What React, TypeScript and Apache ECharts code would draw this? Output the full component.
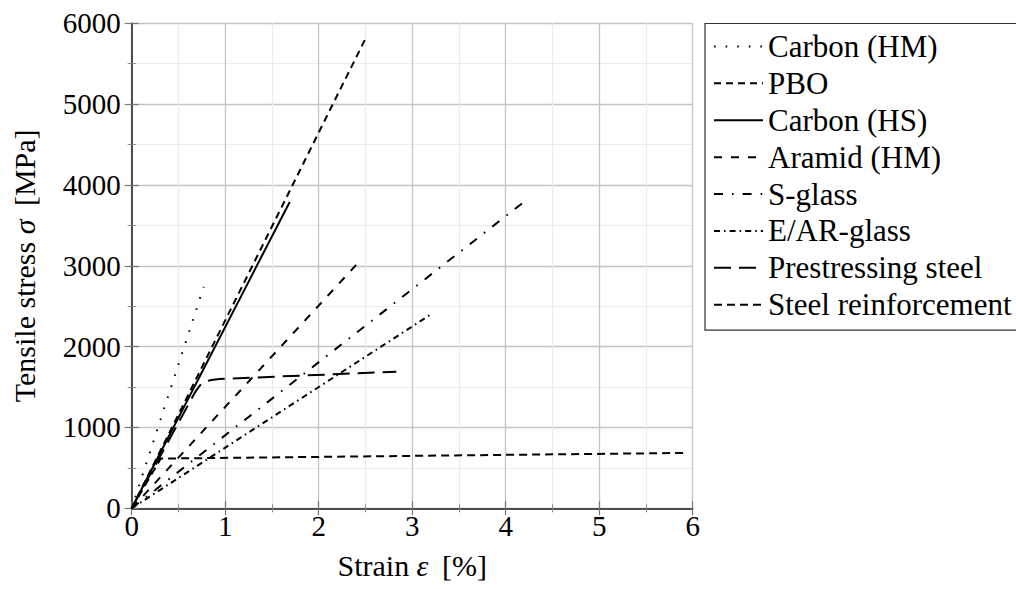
import React, { useEffect, useRef } from "react";
import * as echarts from "echarts";

const seriesNames = [
  "Carbon (HM)",
  "PBO",
  "Carbon (HS)",
  "Aramid (HM)",
  "S-glass",
  "E/AR-glass",
  "Prestressing steel",
  "Steel reinforcement",
];

// [strain %, stress MPa]
const carbonHM = [[0, 0], [0.77, 2740]];
const pbo = [[0, 0], [2.5, 5810]];
const carbonHS = [[0, 0], [1.69, 3790]];
const aramidHM = [[0, 0], [2.4, 3010]];
const sGlass = [[0, 0], [4.2, 3795]];
const earGlass = [[0, 0], [3.2, 2400]];
const prestressingSteel = [
  [0, 0], [0.68, 1440], [0.73, 1520], [0.78, 1565], [0.85, 1588], [0.94, 1600], [2.83, 1690],
];
const steelReinforcement = [[0, 0], [0.31, 615], [5.93, 685]];

const seriesData = [carbonHM, pbo, carbonHS, aramidHM, sGlass, earGlass, prestressingSteel, steelReinforcement];

const dashes: (number[] | null)[] = [
  [1.6, 10],
  [7, 5],
  null,
  [8, 9],
  [9, 9, 1.6, 9],
  [6, 4, 1.6, 4],
  [17, 8],
  [8, 5],
];

const xTicks = [0, 1, 2, 3, 4, 5, 6];
const yTicks = [0, 1000, 2000, 3000, 4000, 5000, 6000];

const FONT = "Liberation Serif";
const FS = 30;

export default function App() {
  const ref = useRef<HTMLDivElement>(null);
  useEffect(() => {
    if (!ref.current) return;
    const chart = echarts.init(ref.current, undefined, { renderer: "svg" });
    const gl = 131.7, gt = 23.3, gw = 561, gh = 485;

    const series: any[] = seriesNames.map((name, i) => ({
      name,
      type: "line",
      data: seriesData[i],
      showSymbol: false,
      symbol: "none",
      lineStyle: {
        color: "#000",
        width: 2,
        type: dashes[i] ? dashes[i] : "solid",
        cap: "butt",
      },
      itemStyle: { color: "#000" },
      z: 3,
    }));

    const baseAxisLine = { show: true, lineStyle: { color: "#444", width: 1.5 } };
    const tick = { show: true, inside: true, length: 7, lineStyle: { color: "#777", width: 1.2 } };
    const minorTick = { show: true, splitNumber: 2, length: 4, lineStyle: { color: "#888", width: 1 } };
    const nameStyle = {
      fontFamily: FONT,
      fontSize: FS,
      color: "#000",
      rich: { i: { fontFamily: FONT, fontSize: FS, fontStyle: "italic", color: "#000" } },
    };
    chart.setOption({
      animation: false,
      grid: { left: gl, top: gt, width: gw, height: gh, containLabel: false },
      legend: {
        orient: "vertical",
        left: 705,
        top: 23.5,
        padding: [4.5, 10, 7, 8],
        itemWidth: 49,
        itemHeight: 14,
        itemGap: 0,
        selectedMode: false,
        borderColor: "#333",
        borderWidth: 1.2,
        borderRadius: 0,
        backgroundColor: "#fff",
        itemStyle: { opacity: 0 },
        textStyle: { fontFamily: FONT, fontSize: FS + 1, color: "#000", lineHeight: 36.9 },
        data: seriesNames,
      },
      xAxis: [
        {
          type: "value",
          min: xTicks[0],
          max: xTicks[xTicks.length - 1],
          interval: 1,
          position: "bottom",
          name: "Strain {i|ε}\u2009 [%]",
          nameLocation: "middle",
          nameGap: 42,
          nameTextStyle: nameStyle,
          axisLine: baseAxisLine,
          axisTick: tick,
          minorTick,
          axisLabel: { fontFamily: FONT, fontSize: FS - 1, color: "#000", margin: 3, formatter: (v: number) => String(v) },
          splitLine: { show: true, lineStyle: { color: "#c4c4c4", width: 1.3 } },
          minorSplitLine: { show: true, lineStyle: { color: "#ececec", width: 1.2 } },
        },
        {
          type: "value",
          min: 0,
          max: 6,
          interval: 1,
          position: "top",
          axisLine: baseAxisLine,
          axisTick: tick,
          minorTick,
          axisLabel: { show: false },
          splitLine: { show: false },
        },
      ],
      yAxis: [
        {
          type: "value",
          min: yTicks[0],
          max: yTicks[yTicks.length - 1],
          interval: 1000,
          position: "left",
          name: "Tensile stress {i|σ}\u2009 [MPa]",
          nameLocation: "middle",
          nameGap: 92,
          nameRotate: 90,
          nameTextStyle: nameStyle,
          axisLine: baseAxisLine,
          axisTick: tick,
          minorTick,
          axisLabel: { fontFamily: FONT, fontSize: FS - 1, color: "#000", margin: 11, formatter: (v: number) => String(v) },
          splitLine: { show: true, lineStyle: { color: "#c4c4c4", width: 1.3 } },
          minorSplitLine: { show: true, lineStyle: { color: "#ececec", width: 1.2 } },
        },
        {
          type: "value",
          min: 0,
          max: 6000,
          interval: 1000,
          position: "right",
          axisLine: baseAxisLine,
          axisTick: tick,
          minorTick,
          axisLabel: { show: false },
          splitLine: { show: false },
        },
      ],
      series,
    });
    return () => chart.dispose();
  }, []);
  return (
    <div
      ref={ref}
      style={{ position: "fixed", left: 0, top: 0, width: 1016, height: 589, background: "#fff" }}
    />
  );
}
